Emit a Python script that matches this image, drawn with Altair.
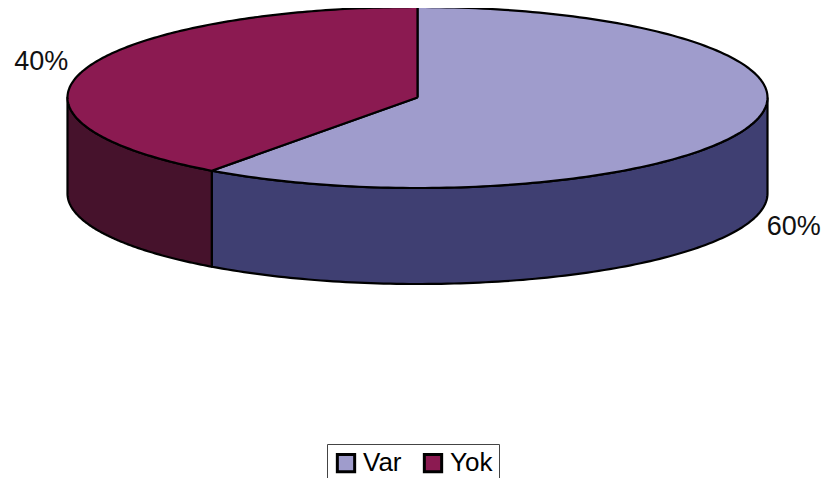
import altair as alt
import numpy as np
import pandas as pd

# ---- data ----
labels = ["Var", "Yok"]
values = [60, 40]
top_colors = ["#9f9ccc", "#8b1a51"]
side_colors = ["#3f3f72", "#46122c"]

# ---- layout of the 3-D pie (image pixel units, mapped through linear scales) ----
CX, CY, RX, RY, DEPTH = 417.5, 97.5, 350.0, 90.5, 96.0
LABEL_K = 1.13


def pt(theta_deg, dy=0.0, k=1.0):
    t = np.radians(theta_deg)
    return CX + k * RX * np.sin(t), CY - k * RY * np.cos(t) + dy


top_rows, side_rows, lab_rows = [], [], []
total = float(sum(values))
start = 0.0
for lab, v, sc in zip(labels, values, side_colors):
    end = start + 360.0 * v / total
    # top face (wedge)
    seq = [(CX, CY)]
    seq += [pt(a) for a in np.linspace(start, end, 181)]
    seq.append((CX, CY))
    for i, (x, y) in enumerate(seq):
        top_rows.append({"label": lab, "x": x, "y": y, "i": i})
    # visible side (front half 90..270 deg)
    s, e = max(start, 90.0), min(end, 270.0)
    if e > s:
        arc = np.linspace(s, e, 121)
        seq = [pt(a) for a in arc] + [pt(a, DEPTH) for a in arc[::-1]]
        seq.append(seq[0])
        for i, (x, y) in enumerate(seq):
            side_rows.append({"label": lab + "_side", "col": sc, "x": x, "y": y, "i": i})
    # percentage label
    mid = (start + end) / 2.0
    lx, ly = pt(mid, k=LABEL_K)
    if np.cos(np.radians(mid)) < 0:
        ly += DEPTH + 2
    else:
        ly -= 4
    lab_rows.append({"label": lab, "x": lx, "y": ly, "txt": f"{round(100 * v / total)}%"})
    start = end

top_df = pd.DataFrame(top_rows)
side_df = pd.DataFrame(side_rows)
lab_df = pd.DataFrame(lab_rows)

xs = alt.Scale(domain=[8, 823], nice=False, zero=False)
ys = alt.Scale(domain=[8, 478], nice=False, zero=False, reverse=True)
X = alt.X("x:Q", scale=xs, axis=None)
Y = alt.Y("y:Q", scale=ys, axis=None)

sides = alt.Chart(side_df).mark_line(
    stroke="black", strokeWidth=2.2, strokeJoin="round"
).encode(
    x=X, y=Y, order="i:Q", detail="label:N",
    fill=alt.Fill("col:N", scale=None, legend=None),
)

tops = alt.Chart(top_df).mark_line(
    stroke="black", strokeWidth=2.2, strokeJoin="round"
).encode(
    x=X, y=Y, order="i:Q", detail="label:N",
    fill=alt.Fill(
        "label:N",
        scale=alt.Scale(domain=labels, range=top_colors),
        legend=alt.Legend(
            title=None, orient="none", legendX=319, legendY=436,
            direction="horizontal", symbolType="square", symbolSize=300,
            symbolStrokeColor="black", symbolStrokeWidth=3, symbolOpacity=1,
            labelFontSize=26, labelFont="Liberation Sans", labelColor="black",
            labelOffset=4, columnPadding=16, strokeColor="#444444", padding=6,
        ),
    ),
)

texts = alt.Chart(lab_df).mark_text(
    fontSize=27, font="Liberation Sans", color="#111111", baseline="middle", align="center"
).encode(x=X, y=Y, text="txt:N")

chart = alt.layer(sides, tops, texts).resolve_scale(
    fill="independent"
).resolve_legend(fill="independent").properties(
    width=815, height=470, padding=0, autosize=alt.AutoSizeParams(type="none")
).configure_view(stroke=None)

chart.save("out.html", embed_options={"renderer": "svg", "actions": False})
